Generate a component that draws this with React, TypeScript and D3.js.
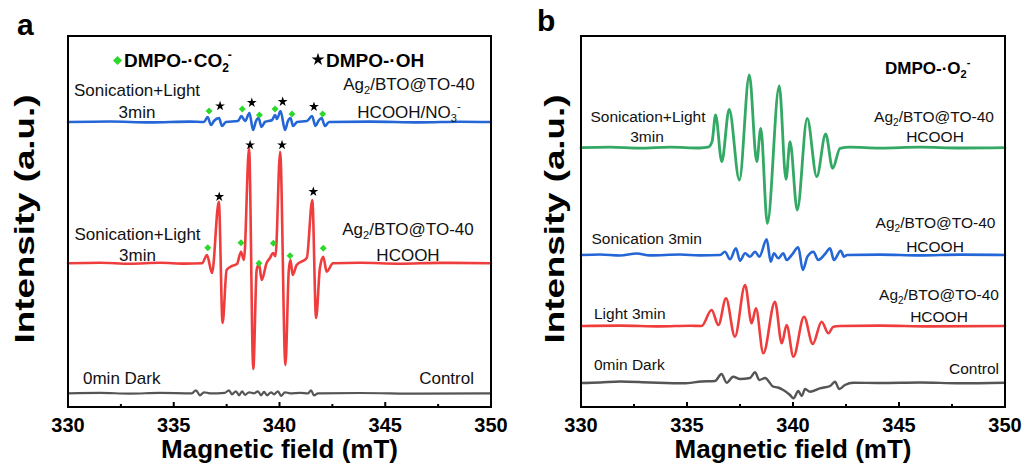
import React from "react";
import * as d3 from "d3";

type Pt = [number, number];

const W = 1027;
const H = 468;
const FONT = "'Liberation Sans', Arial, Helvetica, sans-serif";

// ---------- shared axis data ----------
const fieldDomain: [number, number] = [330, 350];
const majorTicks = [330, 335, 340, 345, 350];
const minorTicks = [332.5, 337.5, 342.5, 347.5];
const intensityDomain: [number, number] = [0, 371];

// ---------- panel a data (field mT, intensity a.u. relative to trace baseline) ----------
const aBlueOffset = 285;
const aRedOffset = 143.7;
const aGrayOffset = 13.7;

const aBlue: Pt[] = [
  [330, 0], [331.99, 0.5], [333.88, -0.4], [335.77, 0.4], [336.43, 0],
  [336.6, 5], [336.76, -3], [336.9, 1], [337.14, 4], [337.28, -4], [337.47, 0],
  [338.04, 1], [338.2, 6], [338.37, 1], [338.58, 9], [338.75, -8], [338.89, 1],
  [339.01, 4], [339.15, -5], [339.31, 0], [339.65, 2], [339.79, 7], [339.88, 3],
  [340.05, 11], [340.26, -8], [340.4, 1], [340.52, 4], [340.64, -4], [340.83, 0],
  [341.3, 1], [341.54, 6], [341.7, -4], [341.84, 1], [341.99, 4], [342.15, -4],
  [342.34, 0], [344.28, 0.4], [346.64, -0.4], [348.53, 0.3], [350, 0],
];
const aBlueStars: Pt[] = [[337.19, 16], [338.69, 19.3], [340.15, 20.3], [341.63, 15.3]];
const aBlueDiamonds: Pt[] = [[336.67, 11], [338.24, 13], [339.05, 7], [339.79, 13], [340.59, 8], [342.04, 8]];

const aRed: Pt[] = [
  [330, 0], [331.51, 0.6], [332.93, -0.4], [334.35, 0.5], [335.53, -0.3], [336.34, 0],
  [336.57, 8.3], [336.81, -9.7], [337.13, 61.6], [337.31, -59.7], [337.5, -6.7],
  [337.75, -2.7], [337.99, -0.7], [338.18, 11.6], [338.32, 3.3], [338.56, 115.3],
  [338.76, -105.7], [338.92, -6.7], [339.03, -0.7], [339.16, -16.7], [339.39, 0.3],
  [339.55, 5.3], [339.69, 10.3], [339.81, 7], [340.03, 111.6], [340.28, -101.7],
  [340.44, -6.7], [340.52, 3.3], [340.62, -11.7], [340.81, -1.7], [341.29, 5.3],
  [341.55, 63.3], [341.73, -54.7], [341.91, -4.7], [342.07, 6.6], [342.23, -8.4],
  [342.53, 0], [343.81, 0.5], [345.7, -0.4], [347.59, 0.4], [350, 0],
];
const aRedStars: Pt[] = [[337.15, 66.6], [338.61, 118.3], [340.12, 118.3], [341.6, 71.6]];
const aRedDiamonds: Pt[] = [[336.61, 15.6], [338.18, 20.6], [339.03, 0], [339.71, 20], [340.5, 7.6], [342.07, 15]];

const aGray: Pt[] = [
  [330, 0], [331.51, 0.4], [332.93, -0.3], [334.35, 0.4], [335.86, 0], [336.05, 3],
  [336.24, -2], [336.43, 1], [336.71, 0], [337.42, 0.5], [337.61, 3], [337.75, -1],
  [337.94, 2], [338.09, -2], [338.23, 2], [338.37, -1.5], [338.56, 1], [338.79, 0],
  [338.98, 2], [339.13, -2], [339.27, 1.5], [339.41, -2], [339.6, 1], [339.74, -1],
  [339.93, 2], [340.07, -2.5], [340.26, 1], [340.5, 0], [340.97, 0.5], [341.35, 0],
  [341.49, 3], [341.63, -2], [341.82, 0], [343.81, 0.3], [346.64, -0.3], [350, 0],
];

// ---------- panel b data ----------
const bGreenOffset = 259.3;
const bBlueOffset = 152;
const bRedOffset = 81;
const bGrayOffset = 24;

const bGreen: Pt[] = [
  [330, 0], [331.37, 0.5], [332.78, -0.5], [334.2, 0.6], [335.61, -0.3], [335.99, 0.5],
  [336.18, 6], [336.35, 32.7], [336.64, -14], [336.99, 38.4], [337.47, -32.3],
  [337.94, 72.7], [338.29, -14], [338.48, 19.4], [338.79, -75.6], [339.35, 61.7],
  [339.67, -31.6], [339.86, 6], [340.2, -62.3], [340.67, 29.4], [341.12, -29],
  [341.54, 13.7], [341.87, -20.6], [342.22, -0.6], [342.69, 0.5], [344.1, -0.4],
  [345.99, 0.5], [347.88, -0.3], [350, 0],
];

const bBlue: Pt[] = [
  [330, 0], [330.9, 0.5], [331.84, -0.5], [332.63, 1.5], [333.25, -0.4], [334.67, 0.5],
  [335.61, -0.4], [336.56, 0], [336.79, 3.3], [337.03, -4.3], [337.31, 6.7], [337.5, -5.7],
  [337.74, 1.7], [337.97, -1.7], [338.21, 3.3], [338.41, -1.7], [338.76, 15.7],
  [338.95, -6.7], [339.1, 1.7], [339.31, -3.3], [339.54, 1.7], [339.7, -5], [339.94, 0],
  [340.25, 7.7], [340.46, -15], [340.68, -1.7], [340.96, 3.3], [341.19, -5], [341.51, 1],
  [341.75, 6.7], [341.93, -5], [342.25, 4.3], [342.41, -1.7], [342.55, 0], [344.1, 0.4],
  [345.99, -0.4], [347.88, 0.4], [350, 0],
];

const bRed: Pt[] = [
  [330, 0], [331.84, 0.4], [333.73, -0.4], [335.14, 0.3], [335.69, 0], [336.16, 16],
  [336.48, 1], [336.84, 27.7], [337.26, -10.7], [337.74, 41], [338.05, 2.7],
  [338.25, 17.7], [338.6, -27.3], [339.15, 24.3], [339.47, -17.3], [339.7, 1],
  [340.02, -30.7], [340.52, 9.3], [340.93, -18], [341.35, 4.3], [341.67, -7.3],
  [341.9, -0.7], [342.22, 0], [344.1, 0.4], [346.46, -0.4], [350, 0],
];

const bGray: Pt[] = [
  [330, 0], [330.9, 0.5], [331.84, 1.5], [333.25, 0.5], [334.83, -0.3], [335.69, 1.5],
  [336.32, 2], [336.63, 9], [336.87, 0.3], [337.18, 6.3], [337.5, 4], [337.97, 5],
  [338.21, 10.7], [338.41, 3], [338.68, 5], [339.07, -3.7], [339.29, -4.5], [339.54, -7],
  [339.86, -12], [340.02, -15.3], [340.25, -8], [340.41, -13], [340.57, -6], [340.8, -8.7],
  [341.27, -5.3], [341.75, -3], [341.98, 1.3], [342.18, -6], [342.45, -2], [342.84, 0.3],
  [344.1, 0], [345.99, 0.5], [347.88, -0.3], [350, 0.3],
];

// ---------- colors ----------
const C_BLUE = "#2566d6";
const C_RED = "#ef3d3d";
const C_GREEN = "#34a865";
const C_GRAY = "#555555";
const C_DIAMOND = "#2bd82b";

interface Trace { data: Pt[]; offset: number; color: string; width: number }
interface Markers { stars: Pt[]; diamonds: Pt[]; offset: number }

const starPath = d3.symbol(d3.symbolStar, 30)() || "";
const starBig = d3.symbol(d3.symbolStar, 52)() || "";
const diamondPath = d3.symbol(d3.symbolSquare, 24)() || "";
const diamondBig = d3.symbol(d3.symbolSquare, 40)() || "";

function Panel(props: {
  left: number; right: number; top: number; bottom: number;
  traces: Trace[]; markers: Markers[]; letter: string; letterX: number; letterY: number; ylabX: number;
}) {
  const { left, right, top, bottom, traces, markers } = props;
  const x = d3.scaleLinear().domain(fieldDomain).range([left, right]);
  const y = d3.scaleLinear().domain(intensityDomain).range([bottom, top]);
  return (
    <g>
      {traces.map((t, i) => {
        const line = d3
          .line<Pt>()
          .x((d) => x(d[0]))
          .y((d) => y(d[1] + t.offset))
          .curve(d3.curveMonotoneX);
        return (
          <path key={i} d={line(t.data) || ""} fill="none" stroke={t.color} strokeWidth={t.width}
            strokeLinejoin="round" strokeLinecap="round" />
        );
      })}
      {markers.map((m, i) => (
        <g key={"m" + i}>
          {m.stars.map((s, j) => (
            <path key={"s" + j} d={starPath} transform={`translate(${x(s[0])},${y(s[1] + m.offset)})`} fill="#000" />
          ))}
          {m.diamonds.map((s, j) => (
            <path key={"d" + j} d={diamondPath}
              transform={`translate(${x(s[0])},${y(s[1] + m.offset)}) rotate(45)`} fill={C_DIAMOND} />
          ))}
        </g>
      ))}
      <rect x={left} y={top} width={right - left} height={bottom - top} fill="none" stroke="#000" strokeWidth={2} />
      {majorTicks.map((t) => (
        <line key={"M" + t} x1={x(t)} x2={x(t)} y1={bottom} y2={bottom - 5} stroke="#000" strokeWidth={2} />
      ))}
      {minorTicks.map((t) => (
        <line key={"m" + t} x1={x(t)} x2={x(t)} y1={bottom} y2={bottom - 3} stroke="#000" strokeWidth={2} />
      ))}
      {majorTicks.map((t) => (
        <text key={"L" + t} x={x(t)} y={432} textAnchor="middle" fontSize={20} fontWeight="bold" fontFamily={FONT}>
          {t}
        </text>
      ))}
      <text x={(left + right) / 2} y={458} textAnchor="middle" fontSize={26} fontWeight="bold" fontFamily={FONT}>
        Magnetic field (mT)
      </text>
      <text transform={`translate(${props.ylabX},219) rotate(-90) scale(1.36,1)`} textAnchor="middle"
        fontSize={27} fontWeight="bold" fontFamily={FONT}>
        Intensity (a.u.)
      </text>
      <text x={props.letterX} y={props.letterY} fontSize={30} fontWeight="bold" fontFamily={FONT}>
        {props.letter}
      </text>
    </g>
  );
}

function AgLabel(p: { x: number; y: number; size: number }) {
  return (
    <text x={p.x} y={p.y} textAnchor="middle" fontSize={p.size} fontFamily={FONT} fill="#111">
      Ag<tspan fontSize={p.size * 0.65} dy={4}>2</tspan>
      <tspan dy={-4}>/BTO@TO-40</tspan>
    </text>
  );
}

function Label(p: { x: number; y: number; size: number; anchor?: string; children: React.ReactNode }) {
  return (
    <text x={p.x} y={p.y} textAnchor={p.anchor || "middle"} fontSize={p.size} fontFamily={FONT} fill="#111">
      {p.children}
    </text>
  );
}

export default function App() {
  return (
    <svg width={W} height={H} style={{ position: "absolute", left: 0, top: 0, background: "#fff" }}>
      <rect width={W} height={H} fill="#fff" />
      {/* Panel a */}
      <Panel left={68} right={491} top={36} bottom={407} letter="a" letterX={17} letterY={35} ylabX={34}
        traces={[
          { data: aGray, offset: aGrayOffset, color: C_GRAY, width: 2.2 },
          { data: aRed, offset: aRedOffset, color: C_RED, width: 2.6 },
          { data: aBlue, offset: aBlueOffset, color: C_BLUE, width: 2.6 },
        ]}
        markers={[
          { stars: aRedStars, diamonds: aRedDiamonds, offset: aRedOffset },
          { stars: aBlueStars, diamonds: aBlueDiamonds, offset: aBlueOffset },
        ]}
      />
      {/* legend a */}
      <path d={diamondBig} transform={`translate(117.5,60.5) rotate(45)`} fill={C_DIAMOND} />
      <text x={124} y={67} fontSize={19} fontWeight="bold" fontFamily={FONT}>
        DMPO-·CO<tspan fontSize={12} dy={5}>2</tspan>
        <tspan fontSize={12} dy={-13} dx={-1}>-</tspan>
      </text>
      <path d={starBig} transform={`translate(318,59.5)`} fill="#000" />
      <text x={326} y={67} fontSize={19} fontWeight="bold" fontFamily={FONT}>
        DMPO-·OH
      </text>
      <Label x={137} y={96} size={17}>Sonication+Light</Label>
      <Label x={137} y={118} size={17}>3min</Label>
      <AgLabel x={409} y={90} size={17} />
      <text x={409} y={118} textAnchor="middle" fontSize={17} fontFamily={FONT} fill="#111">
        HCOOH/NO<tspan fontSize={11} dy={4}>3</tspan>
        <tspan fontSize={11} dy={-12}>-</tspan>
      </text>
      <Label x={137.5} y={240} size={17}>Sonication+Light</Label>
      <Label x={137.5} y={261} size={17}>3min</Label>
      <AgLabel x={408} y={235} size={17} />
      <Label x={408} y={261} size={17}>HCOOH</Label>
      <Label x={83} y={383.5} size={17} anchor="start">0min Dark</Label>
      <Label x={474} y={383.5} size={17} anchor="end">Control</Label>

      {/* Panel b */}
      <Panel left={581} right={1005} top={36} bottom={407} letter="b" letterX={537} letterY={31} ylabX={564}
        traces={[
          { data: bGray, offset: bGrayOffset, color: C_GRAY, width: 2.4 },
          { data: bRed, offset: bRedOffset, color: C_RED, width: 2.6 },
          { data: bBlue, offset: bBlueOffset, color: C_BLUE, width: 2.6 },
          { data: bGreen, offset: bGreenOffset, color: C_GREEN, width: 2.8 },
        ]}
        markers={[]}
      />
      <text x={885} y={74} fontSize={17} fontWeight="bold" fontFamily={FONT}>
        DMPO-·O<tspan fontSize={11} dy={4}>2</tspan>
        <tspan fontSize={11} dy={-12}>-</tspan>
      </text>
      <Label x={648} y={122} size={15.5}>Sonication+Light</Label>
      <Label x={647} y={142} size={15.5}>3min</Label>
      <AgLabel x={934} y={122} size={15.5} />
      <Label x={935} y={142} size={15.5}>HCOOH</Label>
      <Label x={591.5} y={244} size={15.5} anchor="start">Sonication 3min</Label>
      <AgLabel x={935.5} y={227.5} size={15.5} />
      <Label x={935} y={252} size={15.5}>HCOOH</Label>
      <Label x={594} y={318.5} size={15.5} anchor="start">Light 3min</Label>
      <AgLabel x={939} y={300} size={15.5} />
      <Label x={939} y={322} size={15.5}>HCOOH</Label>
      <Label x={594} y={370} size={15.5} anchor="start">0min Dark</Label>
      <Label x={999} y={373.5} size={15.5} anchor="end">Control</Label>
    </svg>
  );
}
